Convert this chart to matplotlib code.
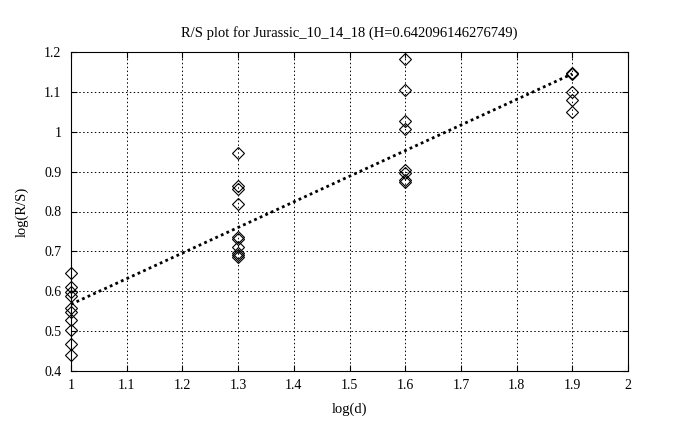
import numpy as np
import matplotlib
matplotlib.use("Agg")
import matplotlib.pyplot as plt

plt.rcParams['font.family'] = ['Liberation Serif', 'DejaVu Serif']

x_d1 = [1.0] * 10
y_d1 = [0.645, 0.61, 0.597, 0.588, 0.558, 0.548, 0.527, 0.503, 0.468, 0.44]
x_d2 = [1.3] * 10
y_d2 = [0.947, 0.863, 0.857, 0.82, 0.737, 0.73, 0.71, 0.697, 0.691, 0.687]
x_d3 = [1.6] * 8
y_d3 = [1.183, 1.105, 1.027, 1.006, 0.903, 0.897, 0.88, 0.873]
x_d4 = [1.9] * 5
y_d4 = [1.148, 1.145, 1.1, 1.08, 1.05]

H = 0.642096146276749
title = "R/S plot for Jurassic_10_14_18 (H=0.642096146276749)"
xticks = [1, 1.1, 1.2, 1.3, 1.4, 1.5, 1.6, 1.7, 1.8, 1.9, 2]
xticklabels = ["1", "1.1", "1.2", "1.3", "1.4", "1.5", "1.6", "1.7", "1.8", "1.9", "2"]
yticks = [0.4, 0.5, 0.6, 0.7, 0.8, 0.9, 1.0, 1.1, 1.2]
yticklabels = ["0.4", "0.5", "0.6", "0.7", "0.8", "0.9", "1", "1.1", "1.2"]

xs = np.array(x_d1 + x_d2 + x_d3 + x_d4)
ys = np.array(y_d1 + y_d2 + y_d3 + y_d4)
intercept = np.mean(ys) - H * np.mean(xs)
xl = np.array([1.0, 1.9])
yl = H * xl + intercept

fig = plt.figure(figsize=(6.78, 4.30), dpi=100)
ax = fig.add_axes([71/678, 59/430, 557/678, 319/430])
ax.plot(xs, ys, linestyle='none', marker='D', markersize=6.2,
        markerfacecolor='none', markeredgecolor='black', markeredgewidth=0.8,
        clip_on=False, zorder=3)
ax.plot(xl, yl, color='black', linestyle=(0, (1, 1.2)), linewidth=2)

ax.set_xlim(1, 2)
ax.set_ylim(0.4, 1.2)
ax.set_xticks(xticks)
ax.set_xticklabels(xticklabels)
ax.set_yticks(yticks)
ax.set_yticklabels(yticklabels)
ax.grid(True, color='black', linestyle=(0, (1.5, 2.5)), linewidth=0.7)
ax.tick_params(direction='in', length=4, labelsize=10, top=True, right=True)
ax.tick_params(axis='y', pad=7)
ax.tick_params(axis='x', pad=6)
for s in ax.spines.values():
    s.set_linewidth(0.8)
ax.set_title(title, fontsize=10.5, pad=11)
ax.set_xlabel("log(d)", fontsize=10.5, labelpad=7)
ax.set_ylabel("log(R/S)", fontsize=10.5, labelpad=11)

fig.savefig("out.png", dpi=100)
